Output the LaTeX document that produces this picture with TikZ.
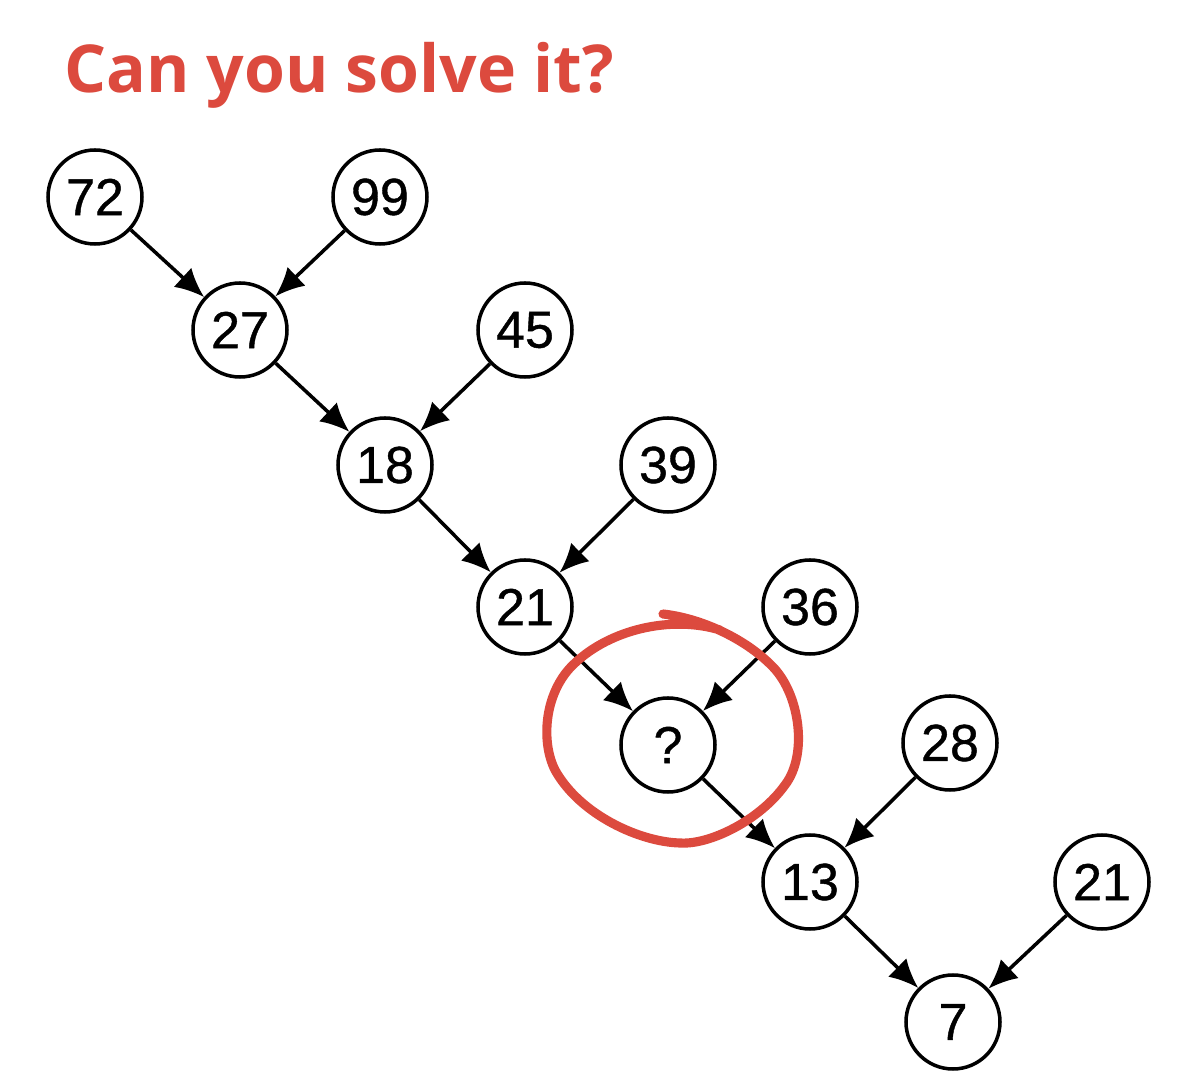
\documentclass[tikz,border=0pt]{standalone}
\usepackage{fontspec}
\setmainfont{Liberation Sans}
\newfontfamily\titlefont{Open Sans}
\newfontfamily\numfont[FakeBold=0.8]{Liberation Sans}
\usetikzlibrary{arrows.meta}
\definecolor{puzzlered}{RGB}{220,74,62}

\begin{document}
\begin{tikzpicture}[
  num/.style={circle, draw, line width=1pt, minimum size=0.94cm, inner sep=0pt, font=\numfont\fontsize{14.8}{16}\selectfont},
  link/.style={->, line width=1pt, >={Latex[length=0.29cm,width=0.26cm]}},
]
			%\draw[step=0.5cm,gray,very thin] (0,0) grid (12,-10.83);
			\useasboundingbox (0,0) rectangle (12,-10.83);
			\node[anchor=base west, text=puzzlered, inner sep=0pt] (title) at (0.635,-0.93) {\titlefont\bfseries\fontsize{18.8}{22}\selectfont Can you solve it?};
			\node[num] (n72) at (0.95,-1.97) {72};
			\node[num] (n99) at (3.80,-1.97) {99};
			\node[num] (n27) at (2.40,-3.30) {27};
			\node[num] (n45) at (5.25,-3.30) {45};
			\node[num] (n18) at (3.85,-4.65) {18};
			\node[num] (n39) at (6.68,-4.65) {39};
			\node[num] (n21) at (5.25,-6.07) {21};
			\node[num] (n36) at (8.10,-6.07) {36};
			\node[num] (nq)  at (6.68,-7.45) {?};
			\node[num] (n28) at (9.50,-7.43) {28};
			\node[num] (n13) at (8.10,-8.82) {13};
			\node[num] (nb)  at (11.02,-8.82) {21};
			\node[num] (n7)  at (9.53,-10.22) {7};
			\draw[link] (n72) -- (n27);
			\draw[link] (n99) -- (n27);
			\draw[link] (n27) -- (n18);
			\draw[link] (n45) -- (n18);
			\draw[link] (n18) -- (n21);
			\draw[link] (n39) -- (n21);
			\draw[link] (n21) -- (nq);
			\draw[link] (n36) -- (nq);
			\draw[link] (nq) -- (n13);
			\draw[link] (n28) -- (n13);
			\draw[link] (n13) -- (n7);
			\draw[link] (nb) -- (n7);
			% hand drawn loop round the missing number
			\draw[puzzlered, line width=2.6pt, line cap=round, line join=round]
			  (6.63,-6.14) .. controls (7.00,-6.18) and (7.45,-6.38) .. (7.73,-6.67)
			  .. controls (8.00,-6.95) and (8.08,-7.55) .. (7.85,-7.85)
			  .. controls (7.60,-8.20) and (7.10,-8.45) .. (6.80,-8.43)
			  .. controls (6.40,-8.42) and (5.80,-8.15) .. (5.55,-7.70)
			  .. controls (5.40,-7.40) and (5.45,-6.90) .. (5.75,-6.63)
			  .. controls (6.10,-6.30) and (6.70,-6.15) .. (7.20,-6.30);
		\end{tikzpicture}
\end{document}
